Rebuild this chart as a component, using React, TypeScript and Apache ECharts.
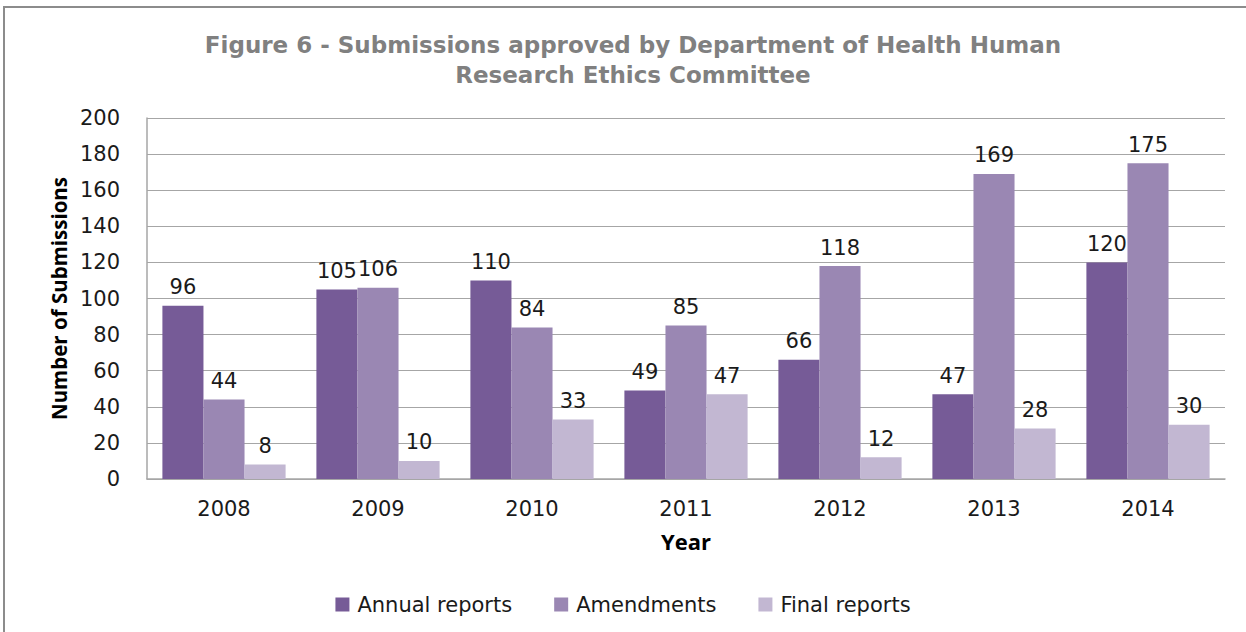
import React, { useEffect, useRef } from "react";
import * as echarts from "echarts";

const years = ["2008", "2009", "2010", "2011", "2012", "2013", "2014"];
const annualReports = [96, 105, 110, 49, 66, 47, 120];
const amendments = [44, 106, 84, 85, 118, 169, 175];
const finalReports = [8, 10, 33, 47, 12, 28, 30];
const seriesNames = ["Annual reports", "Amendments", "Final reports"];
const colors = ["#765B97", "#9A87B3", "#C2B7D2"];

const NUM_FONT = "DejaVu Sans";

export default function App() {
  const ref = useRef<HTMLDivElement>(null);
  useEffect(() => {
    if (!ref.current) return;
    const chart = echarts.init(ref.current, null, { renderer: "svg" });
    const data = [annualReports, amendments, finalReports];
    chart.setOption({
      animation: false,
      backgroundColor: "#ffffff",
      color: colors,
      title: {
        text: "Figure 6 - Submissions approved by Department of Health Human\nResearch Ethics Committee",
        left: 628,
        textAlign: "center",
        top: 25,
        textStyle: {
          fontFamily: "DejaVu Sans",
          fontWeight: "bold",
          fontSize: 23,
          color: "#808080",
          lineHeight: 30,
        },
      },
      graphic: [
        {
          type: "rect",
          shape: { x: 4, y: 7, width: 1400, height: 800 },
          style: { fill: "none", stroke: "#8C8C8C", lineWidth: 2 },
          silent: true,
        },
      ],
      legend: {
        bottom: 12,
        left: "center",
        itemWidth: 14,
        itemHeight: 14,
        itemGap: 42,
        icon: "rect",
        textStyle: { fontFamily: NUM_FONT, fontSize: 21, color: "#1a1a1a", padding: [0, 0, 0, 3] },
        data: seriesNames,
      },
      grid: { left: 147, right: 21, top: 118, bottom: 153 },
      xAxis: {
        type: "category",
        data: years,
        name: "Year",
        nameLocation: "middle",
        nameGap: 51,
        nameTextStyle: { fontFamily: "Open Sans", fontWeight: "bold", fontSize: 22, color: "#000" },
        axisLine: { lineStyle: { color: "#A6A6A6", width: 1.5 } },
        axisTick: { show: false },
        axisLabel: { fontFamily: NUM_FONT, fontSize: 21, color: "#1a1a1a", margin: 19 },
      },
      yAxis: {
        type: "value",
        min: 0,
        max: 200,
        interval: 20,
        name: "Number of Submissions",
        nameLocation: "middle",
        nameGap: 77,
        nameRotate: 90,
        nameTextStyle: { fontFamily: "Open Sans", fontWeight: "bold", fontSize: 20.5, color: "#000" },
        axisLine: { show: true, lineStyle: { color: "#A6A6A6", width: 1.5 } },
        axisTick: { show: false },
        splitLine: { lineStyle: { color: "#A6A6A6", width: 1.2 } },
        axisLabel: { fontFamily: NUM_FONT, fontSize: 21, color: "#1a1a1a", margin: 27 },
      },
      series: seriesNames.map((name, i) => ({
        name,
        type: "bar",
        data: data[i],
        barGap: "0%",
        barCategoryGap: "20%",
        itemStyle: { color: colors[i] },
        label: {
          show: true,
          position: "top",
          distance: 8,
          fontFamily: NUM_FONT,
          fontSize: 21,
          color: "#1a1a1a",
        },
      })),
    });
    return () => chart.dispose();
  }, []);
  return (
    <div
      ref={ref}
      style={{ position: "absolute", left: 0, top: 0, width: 1246, height: 632 }}
    />
  );
}
